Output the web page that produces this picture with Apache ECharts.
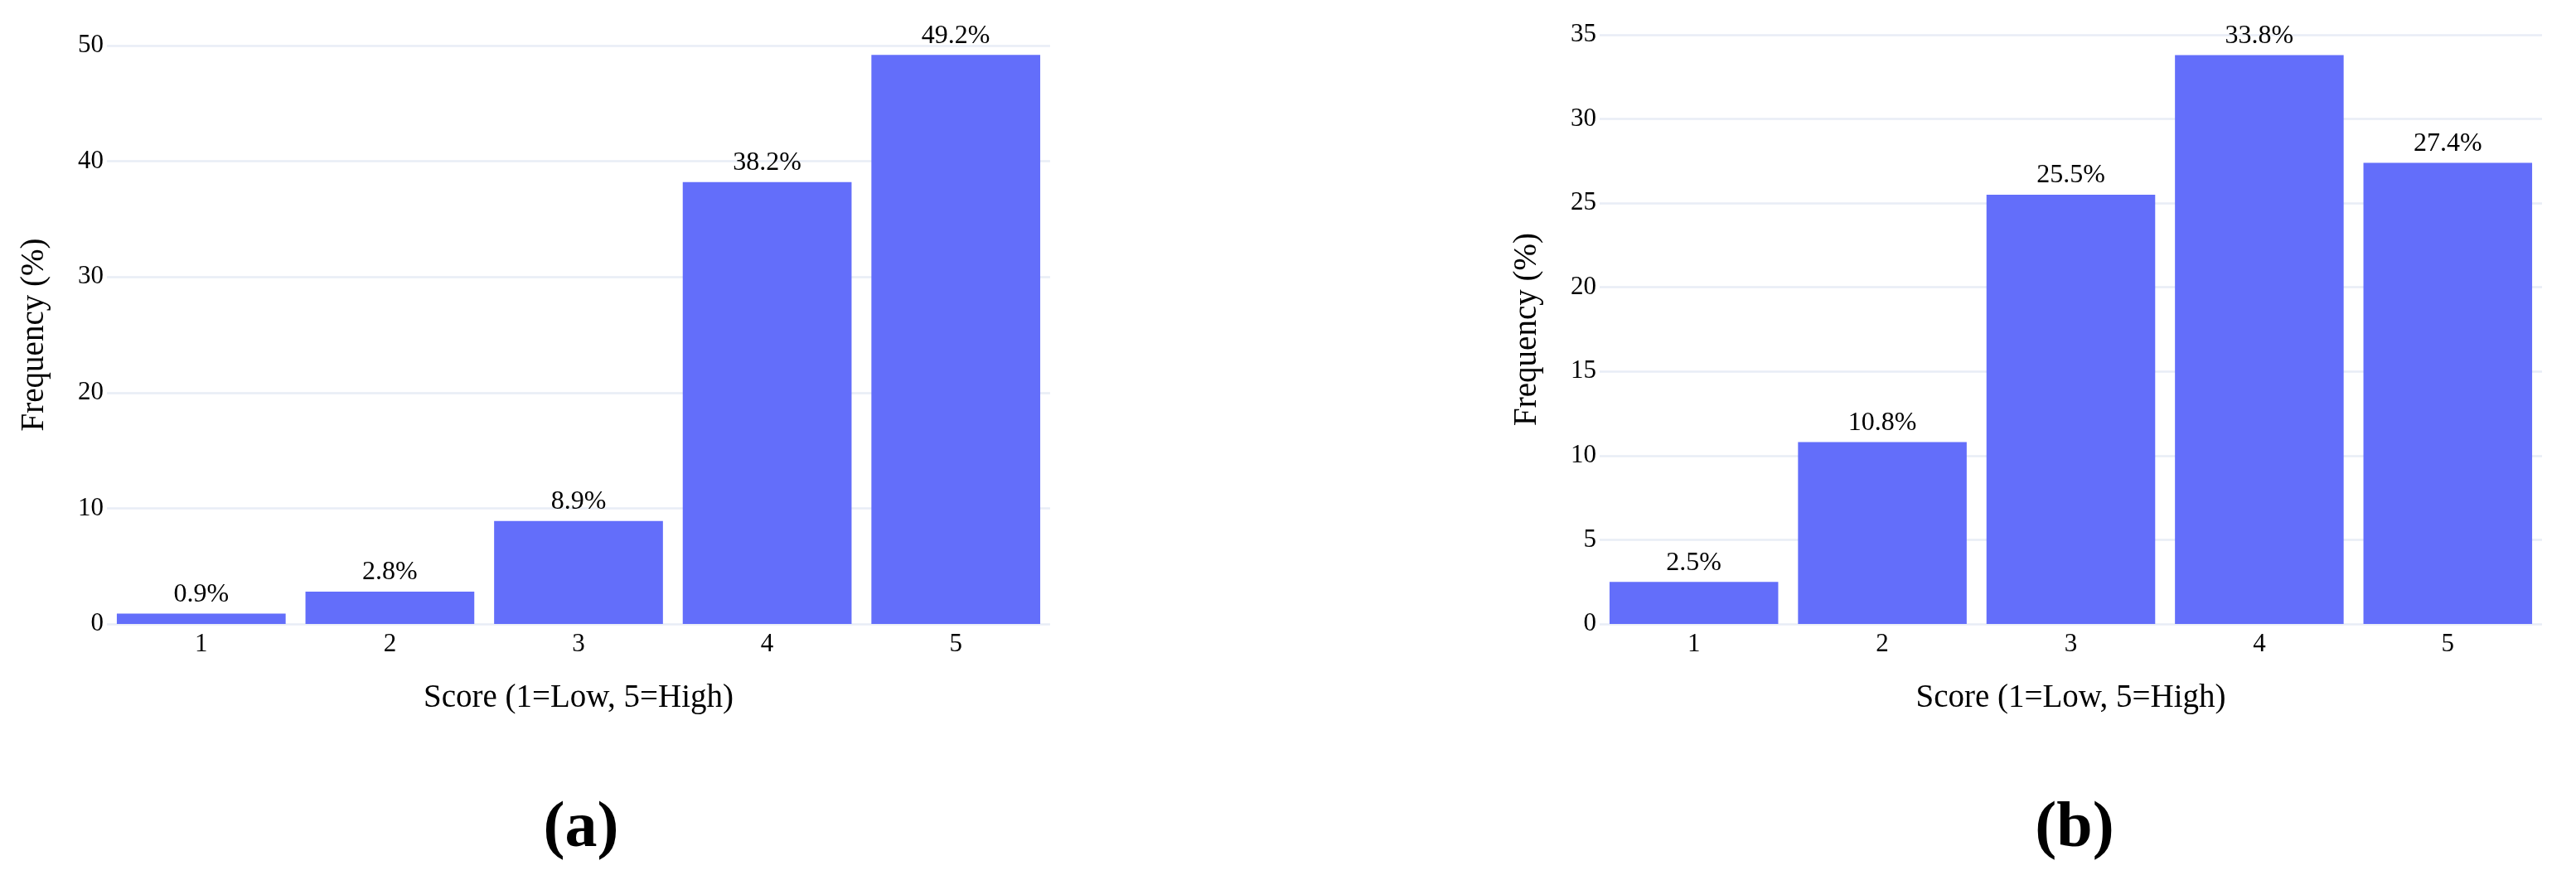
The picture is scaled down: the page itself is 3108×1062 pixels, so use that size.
<!DOCTYPE html>
<html>
<head>
<meta charset="utf-8">
<script src="https://cdn.jsdelivr.net/npm/echarts@6/dist/echarts.min.js"></script>
<style>
  html, body { margin: 0; padding: 0; background: #fff; }
  #chart { width: 3108px; height: 1062px; }
</style>
</head>
<body>
<div id="chart"></div>
<script>
const categories = ['1', '2', '3', '4', '5'];
const valuesA = [0.9, 2.8, 8.9, 38.2, 49.2];
const valuesB = [2.5, 10.8, 25.5, 33.8, 27.4];
const axisMaxA = 50, axisStepA = 10;
const axisMaxB = 35, axisStepB = 5;
const xTitle = 'Score (1=Low, 5=High)';
const yTitle = 'Frequency (%)';
const panelLabels = ['(a)', '(b)'];

const FONT = 'Liberation Serif';
const BAR = '#636EFA';
const GRID = '#E8EDF6';

const chart = echarts.init(document.getElementById('chart'), null, { renderer: 'canvas' });

function xAxisFor(idx) {
  return {
    type: 'category', gridIndex: idx, data: categories,
    axisLine: { show: false }, axisTick: { show: false },
    axisLabel: { color: '#000', fontFamily: FONT, fontSize: 31, margin: 9 },
    name: xTitle, nameLocation: 'middle', nameGap: 70,
    nameTextStyle: { color: '#000', fontFamily: FONT, fontSize: 39 }
  };
}
function yAxisFor(idx, max, step) {
  return {
    type: 'value', gridIndex: idx, min: 0, max: max, interval: step,
    axisLine: { show: false }, axisTick: { show: false },
    axisLabel: { color: '#000', fontFamily: FONT, fontSize: 31, margin: 4 },
    splitLine: { show: true, lineStyle: { color: GRID, width: 2.5 } },
    name: yTitle, nameLocation: 'middle', nameGap: 68, nameRotate: 90,
    nameTextStyle: { color: '#000', fontFamily: FONT, fontSize: 39 }
  };
}
function seriesFor(idx, data) {
  return {
    type: 'bar', xAxisIndex: idx, yAxisIndex: idx, data: data,
    barCategoryGap: '10.5%',
    itemStyle: { color: BAR },
    label: {
      show: true, position: 'top', distance: 7,
      color: '#000', fontFamily: FONT, fontSize: 32,
      formatter: p => p.value.toFixed(1) + '%'
    }
  };
}

chart.setOption({
  backgroundColor: '#fff',
  animation: false,
  textStyle: { fontFamily: FONT },
  grid: [
    { left: 129, top: 55, width: 1138, height: 698 },
    { left: 1930, top: 42, width: 1137, height: 711 }
  ],
  xAxis: [xAxisFor(0), xAxisFor(1)],
  yAxis: [yAxisFor(0, axisMaxA, axisStepA), yAxisFor(1, axisMaxB, axisStepB)],
  series: [seriesFor(0, valuesA), seriesFor(1, valuesB)],
  graphic: [
    { type: 'text', x: 701, y: 1001, style: { text: panelLabels[0], fontFamily: FONT, fontSize: 78, fontWeight: 'bold', fill: '#000', textAlign: 'center', textVerticalAlign: 'middle' } },
    { type: 'text', x: 2503, y: 1001, style: { text: panelLabels[1], fontFamily: FONT, fontSize: 78, fontWeight: 'bold', fill: '#000', textAlign: 'center', textVerticalAlign: 'middle' } }
  ]
});
</script>
</body>
</html>
